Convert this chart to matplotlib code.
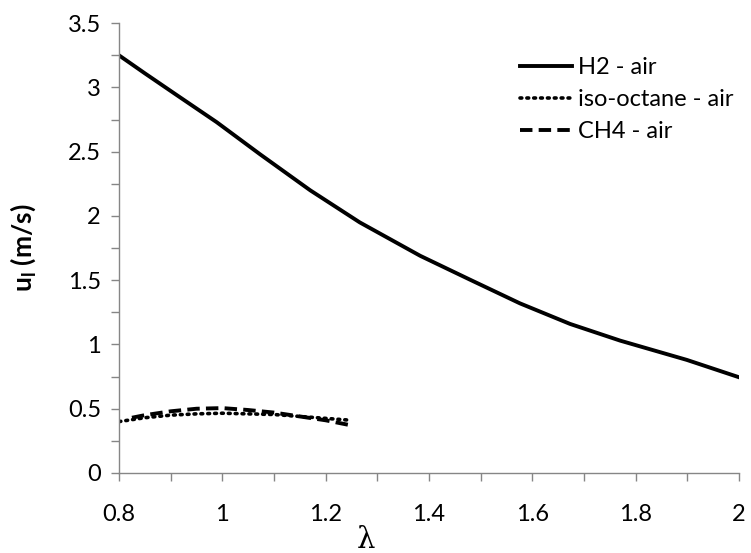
import matplotlib
matplotlib.use("Agg")
import matplotlib.pyplot as plt
from matplotlib.ticker import MultipleLocator, FuncFormatter

plt.rcParams['font.family'] = ['Lato', 'DejaVu Sans']

h2_x = [0.8, 0.85, 0.912, 0.989, 1.073, 1.17, 1.266, 1.383, 1.479, 1.576, 1.673, 1.77, 1.899, 2.0]
h2_y = [3.25, 3.11, 2.94, 2.73, 2.48, 2.20, 1.95, 1.69, 1.505, 1.32, 1.16, 1.03, 0.88, 0.745]

iso_x = [0.8, 0.85, 0.9, 0.95, 1.0, 1.05, 1.1, 1.15, 1.2, 1.25]
iso_y = [0.40, 0.43, 0.45, 0.46, 0.465, 0.46, 0.455, 0.44, 0.425, 0.41]

ch4_x = [0.825, 0.85, 0.9, 0.95, 1.0, 1.05, 1.1, 1.15, 1.2, 1.25]
ch4_y = [0.43, 0.45, 0.48, 0.50, 0.505, 0.49, 0.47, 0.44, 0.41, 0.37]

fig = plt.figure(figsize=(7.51, 5.53), dpi=100)
ax = fig.add_axes([0.1585, 0.1447, 0.8255, 0.8133])

ax.plot(h2_x, h2_y, color='black', lw=2.8, linestyle='-', solid_joinstyle='round', label='H2 - air')
ax.plot(iso_x, iso_y, color='black', lw=2.6, linestyle=(0, (0.5, 1.4)), dash_capstyle='round', label='iso-octane - air')
ax.plot(ch4_x, ch4_y, color='black', lw=2.8, linestyle=(0, (3.2, 1.6)), label='CH4 - air')

ax.set_xlim(0.8, 2.0)
ax.set_ylim(0, 3.5)
ax.xaxis.set_major_locator(MultipleLocator(0.2))
ax.xaxis.set_minor_locator(MultipleLocator(0.1))
ax.yaxis.set_major_locator(MultipleLocator(0.5))
ax.yaxis.set_minor_locator(MultipleLocator(0.25))
fmt = FuncFormatter(lambda v, p: '%g' % round(v, 2))
ax.xaxis.set_major_formatter(fmt)
ax.yaxis.set_major_formatter(fmt)

for s in ['top', 'right']:
    ax.spines[s].set_visible(False)
for s in ['left', 'bottom']:
    ax.spines[s].set_color('#868686')
    ax.spines[s].set_linewidth(1.0)

ax.tick_params(axis='both', which='both', direction='out', color='#868686', width=1.0, length=6, labelsize=17)
ax.tick_params(axis='x', which='both', pad=16)
ax.tick_params(axis='y', which='both', pad=7)

ax.set_xlabel('λ', fontsize=21, family=['DejaVu Serif'])
ax.xaxis.set_label_coords(0.398, -0.117)
ax.set_ylabel(r'u$_\mathregular{l}$ (m/s)', fontsize=19, fontweight='bold')
ax.yaxis.set_label_coords(-0.13, 0.5)

leg = ax.legend(loc='upper left', bbox_to_anchor=(520 / 751, 1 - 57 / 553), bbox_transform=fig.transFigure,
                frameon=False, fontsize=17, handlelength=2.2, handletextpad=0.25,
                labelspacing=0.47, borderaxespad=0, borderpad=0)

fig.savefig('out.png', dpi=100)
